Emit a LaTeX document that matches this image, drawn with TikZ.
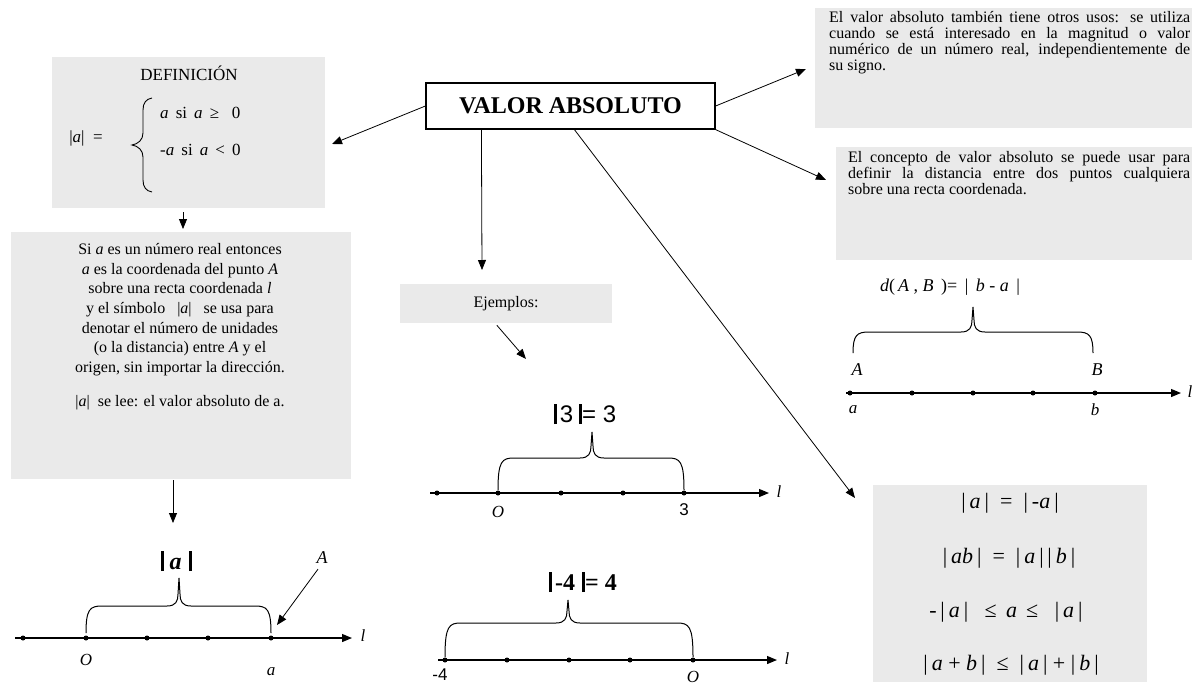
\documentclass[tikz,border=0pt]{standalone}
\usepackage{fontspec}
\setmainfont{Liberation Serif}
\setsansfont{Liberation Sans}
\usetikzlibrary{arrows.meta,calc}
\definecolor{boxgray}{RGB}{234,234,234}
\newcommand{\thickbar}{\rule[-2pt]{3pt}{20pt}}
\newcommand{\absv}[1]{|\kern4pt#1\kern4pt|}
\newcommand{\hbrace}[6]{%
  \draw[bracestyle] (#1,#3) .. controls (#1,#4+3) and (#1+4,#4) .. (#1+16,#4)
    -- (#5-12,#4) .. controls (#5-3,#4) and (#5-1,#4-5) .. (#5-1,#4-12) -- (#5,#6)
    -- (#5+1,#4-12) .. controls (#5+1,#4-5) and (#5+3,#4) .. (#5+12,#4)
    -- (#2-16,#4) .. controls (#2-4,#4) and (#2,#4+3) .. (#2,#3);}
\tikzset{
  gbox/.style={fill=boxgray, draw=none, inner sep=0pt, anchor=north west},
  arr/.style={-{Triangle[length=10pt,width=8pt]}, line width=0.8pt},
  axisline/.style={-{Triangle[length=10pt,width=8pt]}, line width=1.2pt},
  dotmark/.style={circle, fill=black, inner sep=0pt, minimum size=5pt},
  bracestyle/.style={line width=1pt},
  lbl/.style={font=\fontsize{17}{17}\selectfont\itshape, inner sep=0pt},
  numlbl/.style={font=\fontsize{17}{17}\selectfont\sffamily, inner sep=0pt},
  body/.style={font=\fontsize{16}{16}\selectfont, inner sep=0pt},
  frm/.style={font=\fontsize{22}{22}\selectfont, inner sep=0pt},
}
\begin{document}
\begin{tikzpicture}[x=1pt,y=-1pt]
\useasboundingbox (0,0) rectangle (1194,691);

% central node
\node[draw, line width=1.2pt, minimum width=289pt, minimum height=46pt, inner sep=0pt,
      font=\fontsize{24}{24}\selectfont\bfseries] (va) at (570.5,106) {VALOR ABSOLUTO};

% definition box
\node[gbox, minimum width=273pt, minimum height=151pt] (def) at (52,57) {};
\node[font=\fontsize{17}{17}\selectfont, inner sep=0pt] (deft) at (189,73) {DEFINICIÓN};
\node[font=\fontsize{17}{17}\selectfont, inner sep=0pt] (defa) at (86,138) {|\textit{a}| \ =};
\node[font=\fontsize{17}{17}\selectfont, inner sep=0pt, anchor=west] (defc1) at (160,113) {\textit{a} \,si \,\textit{a} \,≥ \ \ 0};
\node[font=\fontsize{17}{17}\selectfont, inner sep=0pt, anchor=west] (defc2) at (160,150) {-\textit{a} \,si \,\textit{a} \,< \,0};
\draw[line width=0.9pt] (152,98) .. controls (146,99) and (143,103) .. (143,110) -- (143,133)
  .. controls (143,140) and (138,144) .. (132,145) .. controls (138,146) and (143,150) .. (143,157)
  -- (143,180) .. controls (143,187) and (146,191) .. (152,192);

% explanation box (left middle)
\node[gbox, minimum width=340pt, minimum height=247pt] (expl) at (11,232) {};
\node[font=\fontsize{16}{19.7}\selectfont, align=center, anchor=north, inner sep=0pt] (expltxt) at (180,243)
 {Si \textit{a} es un número real entonces\\
  \textit{a} es la coordenada del punto \textit{A}\\
  sobre una recta coordenada \textit{l}\\
  y el símbolo \ \ |\textit{a}| \ \ se usa para\\
  denotar el número de unidades\\
  (o la distancia) entre \textit{A} y el\\
  origen, sin importar la dirección.\\[14pt]
  |\textit{a}| \ se lee: el valor absoluto de a.};

% top right box
\node[gbox, minimum width=377pt, minimum height=120pt] (uses) at (815,8) {};
\node[body, text width=361pt, align=justify, anchor=north west] (usestxt) at (829,11)
 {El valor absoluto también tiene otros usos: se utiliza\linebreak
  cuando se está interesado en la magnitud o valor\linebreak
  numérico de un número real, independientemente de\linebreak
  su signo.};

% distance box
\node[gbox, minimum width=356pt, minimum height=113pt] (dist) at (836,147) {};
\node[body, text width=342pt, align=justify, anchor=north west] (disttxt) at (848,151)
 {El concepto de valor absoluto se puede usar para\linebreak
  definir la distancia entre dos puntos cualquiera\linebreak
  sobre una recta coordenada.};

% examples box
\node[fill=boxgray, minimum width=212pt, minimum height=39pt, inner sep=0pt,
      font=\fontsize{16}{16}\selectfont] (ej) at (506,303.5) {Ejemplos:};

% properties box
\node[gbox, minimum width=274pt, minimum height=197pt] (prop) at (873,485) {};
\node[frm] (p1) at (1010,503) {\absv{\textit{a}} \ = \ \absv{-\textit{a}}};
\node[frm] (p2) at (1009,558) {\absv{\textit{ab}} \ = \ \absv{\textit{a}}\,\absv{\textit{b}}};
\node[frm] (p3) at (1006,612) {-\,\absv{\textit{a}} \ \ ≤ \,\textit{a} \,≤ \ \ \absv{\textit{a}}};
\node[frm] (p4) at (1011,665) {\absv{\textit{a} + \textit{b}} \ ≤ \ \absv{\textit{a}} + \absv{\textit{b}}};

% connectors
\coordinate (defin) at (332,144);
\coordinate (usein) at (806,69);
\coordinate (distin) at (826,180);
\coordinate (ejin) at (482,270);
\coordinate (propin) at (855,498);
\coordinate (explin) at (183,229);
\coordinate (ex1in) at (173,523);
\coordinate (ex2in) at (526,359);
\draw[arr] (va.west) -- (defin);
\draw[arr] (va.east) -- (usein);
\draw[arr] (va.south east) -- (distin);
\draw[arr] ($(va.south west)+(56,0)$) -- (ejin);
\draw[arr] ($(va.south west)+(149,0)$) -- (propin);
\draw[arr] ($(def.south west)+(131,4)$) -- (explin);
\draw[arr] ($(expl.south west)+(162,1)$) -- (ex1in);
\draw[arr] ($(ej.south west)+(97,2)$) -- (ex2in);

% number line: |a|
\draw[axisline] (15,638) -- (352,638);
\foreach \x in {23,86,147,208,271} \node[dotmark] at (\x,638) {};
\node[lbl] (l1) at (363,636) {l};
\node[lbl] (o1) at (86,660) {O};
\node[lbl] (a1) at (271,672) {a};
\node[lbl, font=\fontsize{18}{18}\selectfont\itshape] (alab) at (322,558) {A};
\coordinate (apt) at (277,625);
\draw[arr] ($(alab.south)+(-4,5)$) -- (apt);
\node[inner sep=0pt, font=\fontsize{24}{24}\selectfont\bfseries\itshape] (absa) at (176,561) {\thickbar\kern6pt a\kern7pt\thickbar};
\hbrace{86}{271}{633}{606}{179}{578}

% number line: |3| = 3
\draw[axisline] (430,493) -- (769,493);
\foreach \x in {437,498,561,623,684} \node[dotmark] at (\x,493) {};
\node[lbl] (l2) at (779,492) {l};
\node[lbl] (o2) at (498,512) {O};
\node[numlbl] (n3) at (684,510) {3};
\node[inner sep=0pt, font=\fontsize{24}{24}\selectfont\sffamily] (abs3) at (585,414) {\thickbar\kern3pt 3\kern6pt\thickbar= 3};
\hbrace{498}{684}{490}{458}{592}{432}

% number line: |-4| = 4
\draw[axisline] (438,660) -- (777,660);
\foreach \x in {445,507,569,630,693} \node[dotmark] at (\x,660) {};
\node[lbl] (l3) at (787,659) {l};
\node[numlbl] (n4) at (440,675) {-4};
\node[lbl] (o3) at (693,677) {O};
\node[inner sep=0pt, font=\fontsize{24}{24}\selectfont\bfseries] (abs4) at (583,582) {\thickbar\kern3pt-4\kern7pt\thickbar= 4};
\hbrace{445}{693}{657}{623}{568}{600}

% distance number line
\draw[axisline] (846,393) -- (1181,393);
\foreach \x in {850,912,973,1033,1095} \node[dotmark] at (\x,393) {};
\node[lbl] (l4) at (1190,392) {l};
\node[lbl] (a4) at (853,410) {a};
\node[lbl] (b4) at (1095,410) {b};
\node[lbl, font=\fontsize{18}{18}\selectfont\itshape] (A4) at (857,370) {A};
\node[lbl, font=\fontsize{18}{18}\selectfont\itshape] (B4) at (1097,370) {B};
\node[inner sep=0pt, font=\fontsize{18}{18}\selectfont] (dab) at (950,287) {\textit{d}(\,\textit{A} , \textit{B} \,)= \,| \,\textit{b} - \textit{a} \,|};
\hbrace{853}{1093}{353}{332}{973}{307}
\end{tikzpicture}
\end{document}
